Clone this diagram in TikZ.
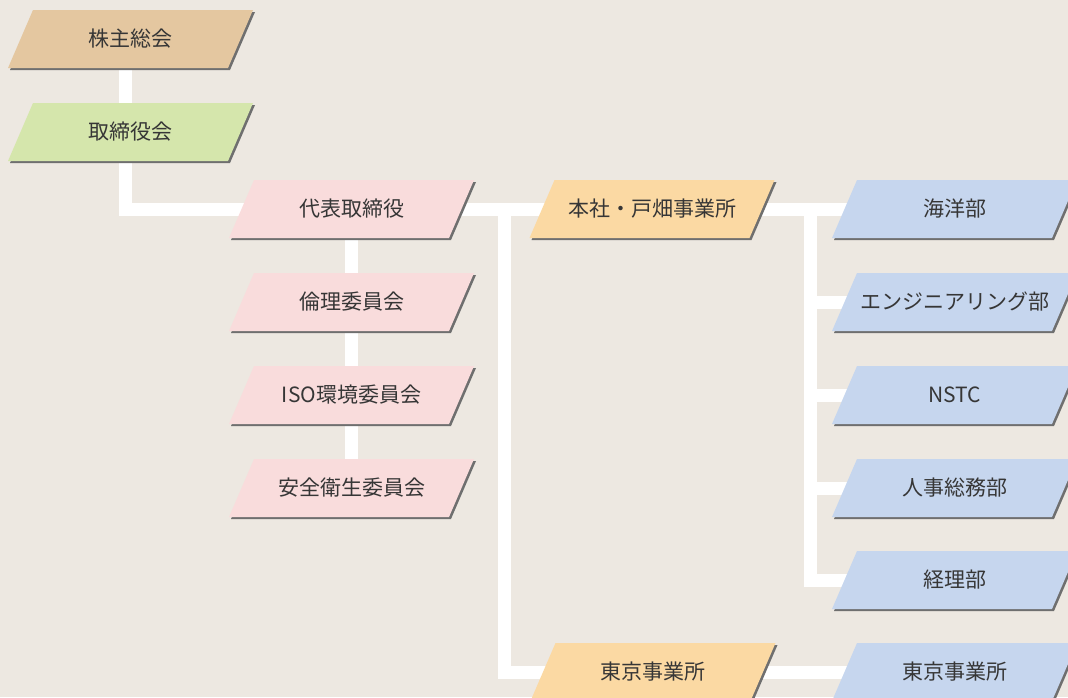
\documentclass[tikz,border=0pt]{standalone}
\usepackage{fontspec}
\setmainfont{Noto Sans CJK JP}
\definecolor{bg}{HTML}{EDE8E1}
\definecolor{ctan}{HTML}{E4C7A0}
\definecolor{cgreen}{HTML}{D5E6AC}
\definecolor{cpink}{HTML}{F9DCDC}
\definecolor{corange}{HTML}{FBD9A3}
\definecolor{cblue}{HTML}{C6D6EE}
\definecolor{cshadow}{HTML}{6F6F6F}
\definecolor{ctext}{HTML}{363636}
\pgfdeclarelayer{bglayer}
\pgfdeclarelayer{connlayer}
\pgfdeclarelayer{boxlayer}
\pgfsetlayers{bglayer,connlayer,boxlayer,main}
\newcommand\mkbox[4]{%
  \begin{pgfonlayer}{boxlayer}
    \fill[cshadow,shift={#2}] (-120.5,31) -- (99.5,31) -- (124.5,-27) -- (-95.5,-27) -- cycle;
    \fill[#3,shift={#2}] (-122.5,29) -- (97.5,29) -- (122.5,-29) -- (-97.5,-29) -- cycle;
  \end{pgfonlayer}
  \node[lbl] (#1) at #2 {#4};}
\begin{document}
\begin{tikzpicture}[x=1pt,y=-1pt,
  lbl/.style={inner sep=0pt, text=ctext, font=\fontsize{21}{25}\selectfont},
  conn/.style={draw=white, line width=13pt, line join=miter, line cap=butt}]
\useasboundingbox (0,0) rectangle (1068,697);
\clip (0,0) rectangle (1068,697);
\begin{pgfonlayer}{bglayer}
\fill[bg] (0,0) rectangle (1068,697);
\end{pgfonlayer}
% boxes
\mkbox{kabu}{(130.5,39)}{ctan}{株主総会}
\mkbox{tori}{(130.5,132)}{cgreen}{取締役会}
\mkbox{daihyo}{(351.5,209)}{cpink}{代表取締役}
\mkbox{rinri}{(351.5,302)}{cpink}{倫理委員会}
\mkbox{iso}{(351.5,395)}{cpink}{ISO環境委員会}
\mkbox{anzen}{(351.5,488)}{cpink}{安全衛生委員会}
\mkbox{honsha}{(652,209)}{corange}{本社・戸畑事業所}
\mkbox{tokyo1}{(653,672)}{corange}{東京事業所}
\mkbox{kaiyo}{(954.5,209)}{cblue}{海洋部}
\mkbox{eng}{(954.5,302)}{cblue}{エンジニアリング部}
\mkbox{nstc}{(954.5,395)}{cblue}{NSTC}
\mkbox{jinji}{(954.5,488)}{cblue}{人事総務部}
\mkbox{keiri}{(954.5,580)}{cblue}{経理部}
\mkbox{tokyo2}{(954.5,672)}{cblue}{東京事業所}
% junctions
\coordinate (j1) at (504,209);
\coordinate (j2) at (810,209);
% connectors
\begin{pgfonlayer}{connlayer}
\draw[conn] ([xshift=-5.5pt]kabu.center) |- (daihyo.center);
\draw[conn] (daihyo.center) -- (anzen.center);
\draw[conn] (daihyo.center) -- (kaiyo.center);
\draw[conn] (j1) |- (tokyo1.center);
\draw[conn] (tokyo1.center) -- (tokyo2.center);
\draw[conn] (j2) |- (keiri.center);
\draw[conn] (j2 |- eng.center) -- (eng.center);
\draw[conn] (j2 |- nstc.center) -- (nstc.center);
\draw[conn] (j2 |- jinji.center) -- (jinji.center);
\end{pgfonlayer}
\end{tikzpicture}
\end{document}
